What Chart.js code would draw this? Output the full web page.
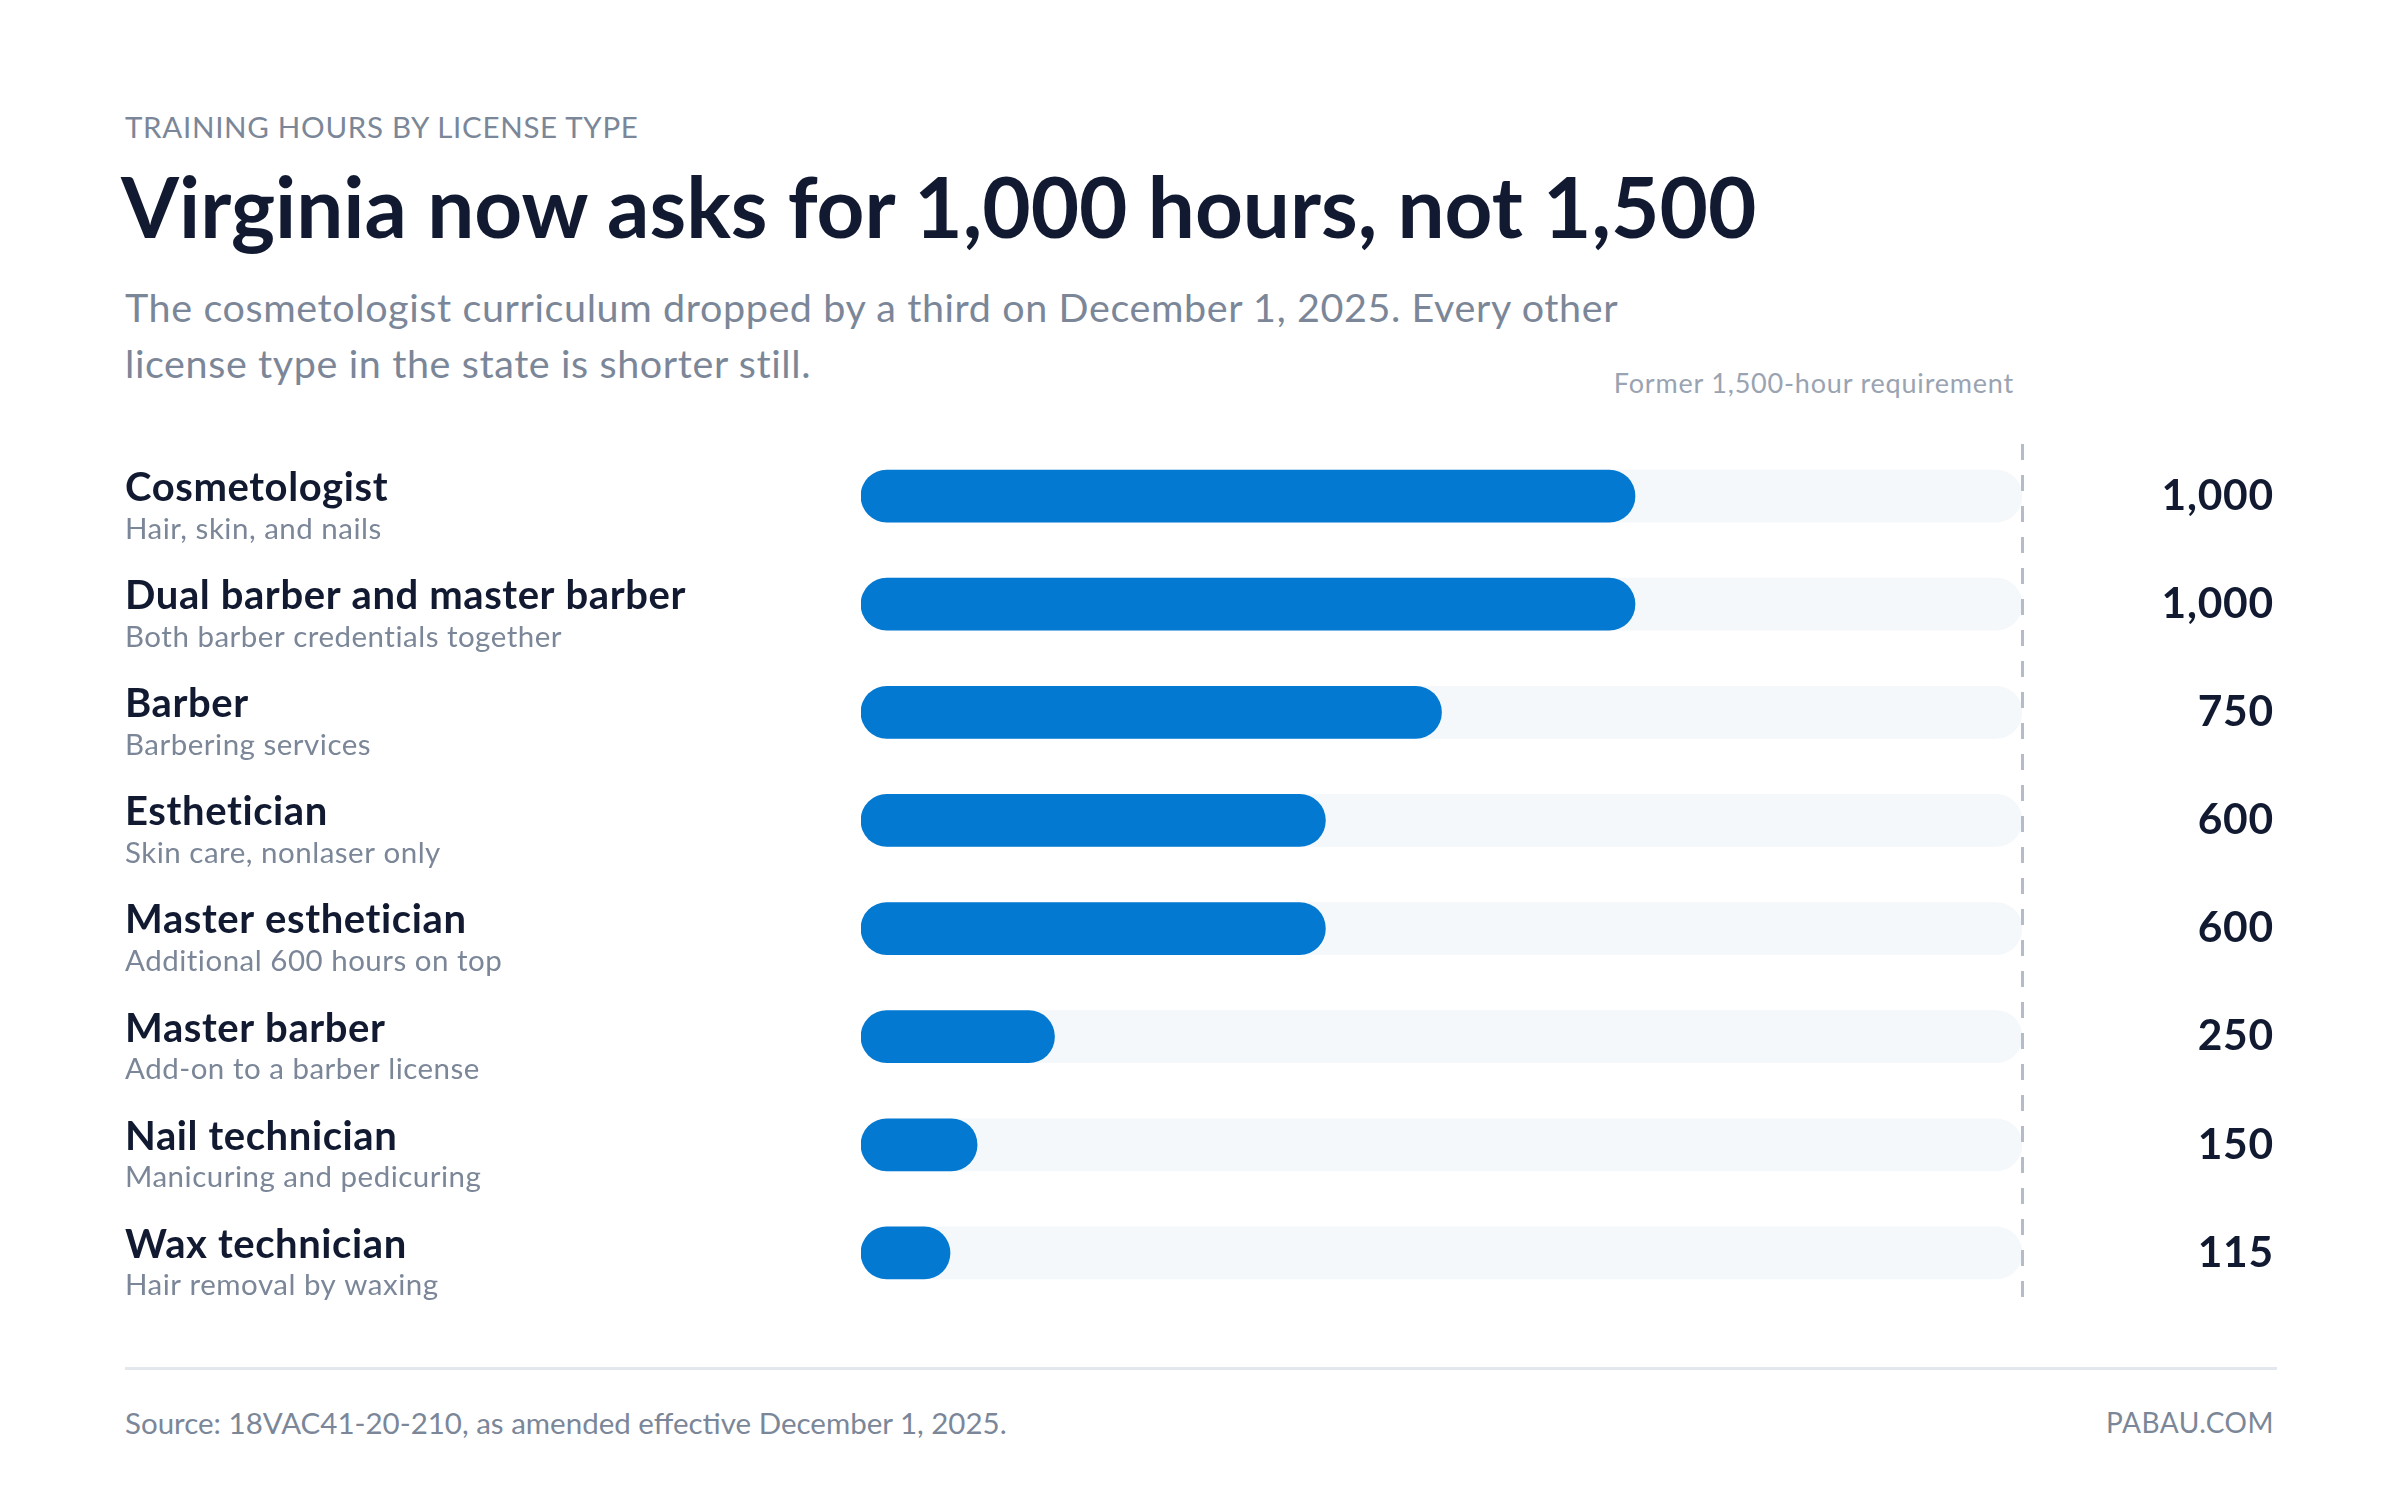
<!DOCTYPE html>
<html lang="en">
<head>
    <meta charset="UTF-8">
    <title>Training hours by license type</title>
    <script src="https://cdn.jsdelivr.net/npm/chart.js"></script>
    <style>
        body {
            margin: 0;
            width: 2400px;
            height: 1498px;
            background: #ffffff;
            font-family: Lato, "Noto Sans", sans-serif;
            overflow: hidden;
            position: relative;
        }
        .abs { position: absolute; white-space: nowrap; }
        #eyebrow {
            left: 125px; top: 110px;
            font-size: 29.5px; line-height: 34px;
            color: #7b8798; letter-spacing: 0.7px;
        }
        #title {
            left: 121px; top: 158px;
            font-size: 83.5px; line-height: 96px;
            font-weight: 700; color: #111a31;
        }
        #subtitle {
            left: 125px; top: 279px;
            font-size: 39.5px; line-height: 56px;
            color: #7b8798; letter-spacing: 0.6px;
        }
        #former {
            right: 386px; top: 367px;
            font-size: 27px; line-height: 32px;
            color: #9aa3b1; letter-spacing: 0.8px;
        }
        #rule {
            left: 125px; top: 1367px; width: 2152px; height: 3px;
            background: #e3e8ee;
        }
        #source {
            left: 125px; top: 1406px;
            font-size: 29.5px; line-height: 34px; color: #7b8798;
        }
        #brand {
            right: 126px; top: 1405px;
            font-size: 28px; line-height: 34px; color: #7b8798;
            letter-spacing: 0.5px;
        }
        #chart {
            position: absolute; left: 0; top: 420px;
        }
    </style>
</head>
<body>
    <div class="abs" id="eyebrow">TRAINING HOURS BY LICENSE TYPE</div>
    <div class="abs" id="title">Virginia now asks for 1,000 hours, not 1,500</div>
    <div class="abs" id="subtitle">The cosmetologist curriculum dropped by a third on December 1, 2025. Every other<br>license type in the state is shorter still.</div>
    <div class="abs" id="former">Former 1,500-hour requirement</div>
    <canvas id="chart" width="2400" height="920"></canvas>
    <div class="abs" id="rule"></div>
    <div class="abs" id="source">Source: 18VAC41-20-210, as amended effective December 1, 2025.</div>
    <div class="abs" id="brand">PABAU.COM</div>

    <script>
        // data
        const licenses = ['Cosmetologist', 'Dual barber and master barber', 'Barber', 'Esthetician',
            'Master esthetician', 'Master barber', 'Nail technician', 'Wax technician'];
        const notes = ['Hair, skin, and nails', 'Both barber credentials together', 'Barbering services',
            'Skin care, nonlaser only', 'Additional 600 hours on top', 'Add-on to a barber license',
            'Manicuring and pedicuring', 'Hair removal by waxing'];
        const hours = [1000, 1000, 750, 600, 600, 250, 150, 115];
        const formerHours = 1500;

        const sideText = {
            id: 'sideText',
            afterDraw(chart) {
                const c = chart.ctx;
                const y = chart.scales.y;
                const x = chart.scales.x;
                c.save();

                // dashed marker for the old requirement
                const xf = Math.round(x.getPixelForValue(formerHours)) + 0.5;
                c.strokeStyle = '#b4bcc9';
                c.lineWidth = 3;
                c.setLineDash([16, 15]);
                c.beginPath();
                c.moveTo(xf, 24);
                c.lineTo(xf, chart.chartArea.bottom);
                c.stroke();
                c.setLineDash([]);

                c.textBaseline = 'middle';
                licenses.forEach((name, i) => {
                    const py = y.getPixelForValue(i);
                    c.textAlign = 'left';
                    c.fillStyle = '#111a31';
                    c.letterSpacing = '0.6px';
                    c.font = '700 40px Lato, sans-serif';
                    c.fillText(name, 125, py - 8);
                    c.fillStyle = '#7b8798';
                    c.letterSpacing = '0.5px';
                    c.font = '400 29.5px Lato, sans-serif';
                    c.fillText(notes[i], 125, py + 33);

                    c.textAlign = 'right';
                    c.fillStyle = '#111a31';
                    c.letterSpacing = '0.8px';
                    c.font = '700 42.5px Lato, sans-serif';
                    c.fillText(hours[i].toLocaleString('en-US'), 2274, py);
                });
                c.restore();
            }
        };

        new Chart(document.getElementById('chart'), {
            type: 'bar',
            data: {
                labels: licenses,
                datasets: [{
                    data: hours,
                    backgroundColor: '#0479d1',
                    borderRadius: 26,
                    borderSkipped: false,
                    barThickness: 52,
                    grouped: false,
                    order: 1
                }, {
                    data: licenses.map(() => formerHours),
                    backgroundColor: '#f4f8fb',
                    borderRadius: 26,
                    borderSkipped: false,
                    barThickness: 52,
                    grouped: false,
                    order: 2
                }]
            },
            options: {
                indexAxis: 'y',
                responsive: false,
                animation: false,
                devicePixelRatio: 1,
                layout: { padding: { left: 861, right: 378, top: 22, bottom: 33 } },
                scales: {
                    x: { display: false, min: 0, max: formerHours },
                    y: { display: false }
                },
                plugins: {
                    legend: { display: false },
                    tooltip: { enabled: false }
                }
            },
            plugins: [sideText]
        });
    </script>
</body>
</html>
